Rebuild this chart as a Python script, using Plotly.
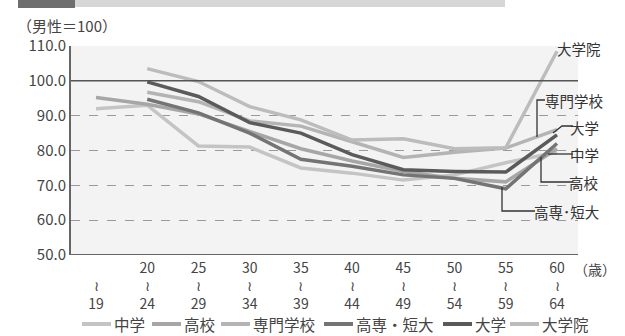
import plotly.graph_objects as go

# Age groups (index positions on the x axis)
age_top = ["", "20", "25", "30", "35", "40", "45", "50", "55", "60"]
age_bottom = ["19", "24", "29", "34", "39", "44", "49", "54", "59", "64"]
x_idx = list(range(10))

# Female wage index by education (male = 100)
chugaku = [92.0, 93.0, 81.3, 81.0, 75.0, 73.5, 71.5, 73.0, 76.5, 79.5]
koukou = [95.2, 93.3, 90.5, 85.5, 80.5, 77.0, 74.0, 72.0, 71.0, 80.5]
senmon = [None, 96.7, 94.0, 88.5, 87.0, 82.5, 78.0, 79.5, 80.7, 86.0]
kosen_tandai = [None, 94.7, 90.8, 85.0, 77.5, 75.5, 73.0, 72.0, 69.0, 82.0]
daigaku = [None, 99.7, 95.5, 88.0, 85.0, 78.8, 74.5, 74.0, 73.8, 84.5]
daigakuin = [None, 103.5, 99.8, 92.6, 88.8, 83.0, 83.4, 80.5, 80.8, 108.5]

series = [
    ("中学", chugaku, "#c4c4c4"),
    ("高校", koukou, "#a6a6a6"),
    ("専門学校", senmon, "#b4b4b4"),
    ("高専・短大", kosen_tandai, "#747474"),
    ("大学", daigaku, "#5a5a5a"),
    ("大学院", daigakuin, "#bcbcbc"),
]

FONT = "Noto Sans CJK JP"
W, H = 625, 336
ML, MR, MT, MB = 71, 47, 46, 81
PW, PH = W - ML - MR, H - MT - MB


def px(xp, yp):
    """Pixel position -> paper coordinates of the plot area."""
    return (xp - ML) / PW, (H - MB - yp) / PH


fig = go.Figure()
for name, vals, color in series:
    fig.add_trace(go.Scatter(
        x=x_idx, y=vals, name=name, mode="lines",
        line=dict(color=color, width=3.5), connectgaps=False,
    ))

ticktext = [f"{t}<br>≀<br>{b}" for t, b in zip(age_top, age_bottom)]

fig.update_layout(
    width=W, height=H,
    margin=dict(l=ML, r=MR, t=MT, b=MB, autoexpand=False),
    paper_bgcolor="white",
    plot_bgcolor="#f3f3f3",
    font=dict(family=FONT, size=14, color="#444"),
    showlegend=False,
    xaxis=dict(
        range=[-0.488, 9.41], tickmode="array", tickvals=x_idx, ticktext=ticktext,
        showgrid=False, zeroline=False, showline=False, ticks="",
        tickfont=dict(size=14, color="#444"), automargin=False,
        ticklabelstandoff=3,
    ),
    yaxis=dict(
        range=[50, 110], tickvals=[50, 60, 70, 80, 90, 100, 110],
        ticktext=["50.0", "60.0", "70.0", "80.0", "90.0", "100.0", "110.0"],
        showgrid=True, gridcolor="#9a9a9a", griddash="dash", gridwidth=1,
        zeroline=False, showline=True, linecolor="#666", linewidth=2,
        ticks="", tickfont=dict(size=15, color="#444"), automargin=False,
    ),
)

# Baseline (男性=100) and bottom axis line
fig.add_shape(type="line", xref="paper", yref="y", x0=0, x1=1, y0=100, y1=100,
              line=dict(color="#555", width=1.5))
fig.add_shape(type="line", xref="paper", yref="y", x0=0, x1=1, y0=50, y1=50,
              line=dict(color="#666", width=2))

# Header band at the very top
a0, b0 = px(18, 8)
a1, b1 = px(75, -2)
fig.add_shape(type="rect", xref="paper", yref="paper", x0=a0, x1=a1, y0=b0, y1=b1,
              line=dict(width=0), fillcolor="#6e6e6e", layer="above")
a0, b0 = px(75, 7)
a1, b1 = px(505, -2)
fig.add_shape(type="rect", xref="paper", yref="paper", x0=a0, x1=a1, y0=b0, y1=b1,
              line=dict(width=0), fillcolor="#d6d6d6", layer="above")

xx, yy = px(15, 25)
fig.add_annotation(text="（男性＝100）", xref="paper", yref="paper", x=xx, y=yy,
                   xanchor="left", yanchor="middle", showarrow=False,
                   font=dict(size=15, color="#444"))
xx, yy = px(572, 269)
fig.add_annotation(text="（歳）", xref="paper", yref="paper", x=xx, y=yy,
                   xanchor="left", yanchor="middle", showarrow=False,
                   font=dict(size=14, color="#444"))

# End-of-line labels with leader lines
lab_font = dict(size=14.5, color="#333")
labels = [
    ("大学院", 603, 48),
    ("専門学校", 606, 100),
    ("大学", 601, 127),
    ("中学", 601, 154),
    ("高校", 601, 182),
    ("高専･短大", 601, 211),
]
for text, xr, yp in labels:
    xx, yy = px(xr, yp)
    fig.add_annotation(text=text, xref="paper", yref="paper", x=xx, y=yy,
                       xanchor="right", yanchor="middle", showarrow=False, font=lab_font)

leaders = [
    [(545, 100), (537, 100), (537, 137)],           # 専門学校
    [(573, 126), (562, 126), (553, 133)],           # 大学
    [(573, 154), (548, 154)],                       # 中学
    [(573, 182), (541, 182), (541, 157)],           # 高校
    [(535, 211), (502, 211), (502, 187)],           # 高専・短大
]
for pts in leaders:
    path = ""
    for k, (a, b) in enumerate(pts):
        xx, yy = px(a, b)
        path += ("M" if k == 0 else "L") + f"{xx},{yy} "
    fig.add_shape(type="path", xref="paper", yref="paper", path=path,
                  line=dict(color="#333", width=1.3))

# Legend row along the bottom
legend_x = [82, 152, 221, 324, 443, 510]
legend_y = 324
for (name, _, color), lx in zip(series, legend_x):
    a0, yy = px(lx, legend_y)
    a1, _ = px(lx + 29, legend_y)
    fig.add_shape(type="line", xref="paper", yref="paper", x0=a0, x1=a1, y0=yy, y1=yy,
                  line=dict(color=color, width=4))
    tx, _ = px(lx + 30, legend_y)
    fig.add_annotation(text=name, xref="paper", yref="paper", x=tx, y=yy,
                       xanchor="left", yanchor="middle", showarrow=False,
                       font=dict(size=15.5, color="#444"))

fig.write_html("out.html")
